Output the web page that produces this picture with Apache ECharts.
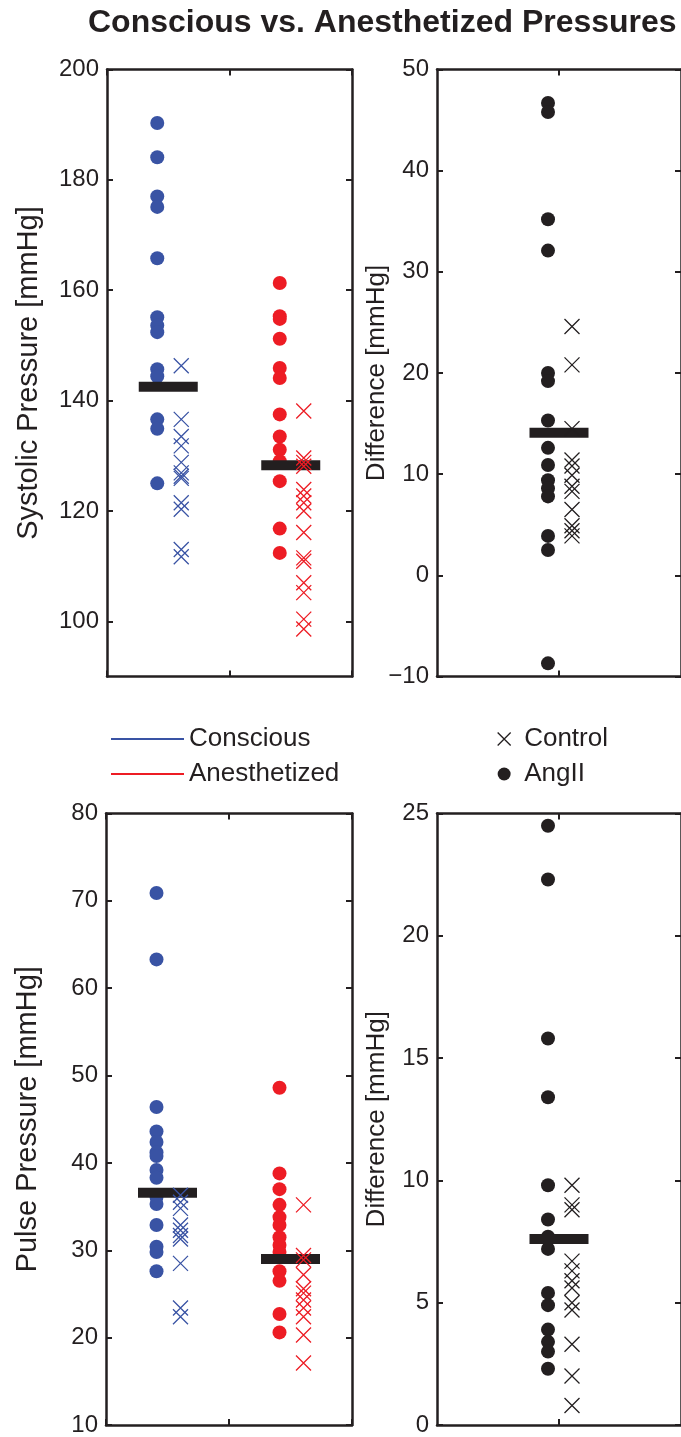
<!DOCTYPE html>
<html><head><meta charset="utf-8">
<script src="https://cdn.jsdelivr.net/npm/echarts@6/dist/echarts.min.js"></script>
<style>html,body{margin:0;padding:0;background:#fff}#c{width:681px;height:1437px}</style>
</head><body><div id="c"></div>
<script>
// ---------- data ----------
const groups = ['Conscious', 'Anesthetized'];
const diffGroup = ['Difference'];

const systolicTicks = [100, 120, 140, 160, 180, 200];
const systolicDiffTicks = [-10, 0, 10, 20, 30, 40, 50];
const pulseTicks = [10, 20, 30, 40, 50, 60, 70, 80];
const pulseDiffTicks = [0, 5, 10, 15, 20, 25];

const systolicConsciousAngII = [190.3, 184.1, 177.0, 175.1, 165.8, 155.1, 153.6, 152.4, 145.7, 144.4, 136.6, 134.9, 125.0];
const systolicConsciousControl = [146.3, 136.6, 133.5, 131.8, 128.8, 126.9, 126.3, 125.9, 121.5, 120.3, 113.0, 111.7];
const systolicAnesthAngII = [161.3, 155.3, 154.8, 151.2, 145.9, 144.1, 137.5, 133.5, 131.1, 129.0, 125.4, 116.8, 112.4];
const systolicAnesthControl = [138.1, 129.6, 128.8, 128.1, 123.9, 122.7, 121.5, 120.0, 116.1, 111.5, 110.9, 107.0, 105.2, 100.4, 98.6];
const systolicMeans = [142.5, 128.3];

const systolicDiffAngII = [46.7, 45.8, 35.2, 32.1, 20.0, 19.2, 15.3, 12.6, 10.9, 9.4, 8.6, 7.8, 3.9, 2.5, -8.7];
const systolicDiffControl = [24.6, 20.8, 14.5, 11.4, 10.8, 9.9, 8.8, 8.3, 6.5, 4.9, 4.4, 3.9];
const systolicDiffMean = [14.1];

const pulseConsciousAngII = [70.9, 63.3, 46.4, 43.6, 42.4, 41.2, 40.8, 39.2, 38.3, 36.1, 35.3, 32.9, 30.4, 29.8, 27.6];
const pulseConsciousControl = [36.3, 35.5, 34.8, 32.9, 32.3, 31.7, 31.3, 28.5, 23.4, 22.4];
const pulseAnesthAngII = [48.6, 38.8, 37.0, 35.2, 33.8, 32.9, 31.5, 30.6, 29.8, 27.6, 26.5, 22.7, 20.6];
const pulseAnesthControl = [35.2, 29.4, 28.9, 27.2, 25.6, 25.1, 24.3, 23.4, 22.4, 20.3, 17.1];
const pulseMeans = [36.6, 29.0];

const pulseDiffAngII = [24.5, 22.3, 15.8, 13.4, 9.8, 8.4, 7.7, 7.2, 5.4, 4.9, 3.9, 3.4, 3.0, 2.3];
const pulseDiffControl = [9.8, 9.0, 8.8, 6.7, 6.3, 5.9, 5.6, 5.0, 4.7, 3.3, 2.0, 0.8];
const pulseDiffMean = [7.6];

// ---------- style ----------
const FONT = "'Liberation Sans', Arial, Helvetica, sans-serif";
const INK = '#231f20', BLUE = '#3953a4', RED = '#ed1c24';
const XSYM = 'path://M0,0L10,10M10,0L0,10';
const DOT = 14, CROSS = 15, DOT_OFF = -11, CROSS_OFF = 13;

const grids = [
  {left: 107, top: 69.5, width: 245, height: 607},
  {left: 437, top: 69.5, width: 245, height: 607},
  {left: 106, top: 813.5, width: 246, height: 613.5},
  {left: 437, top: 813.5, width: 245, height: 613.5}
];

const panels = [
  {cats: groups, min: 90, max: 200, ticks: systolicTicks, name: 'Systolic Pressure [mmHg]', nameSize: 29, nameGap: 64, align: false},
  {cats: diffGroup, min: -10, max: 50, ticks: systolicDiffTicks, name: 'Difference [mmHg]', nameSize: 26, nameGap: 47, align: true},
  {cats: groups, min: 10, max: 80, ticks: pulseTicks, name: 'Pulse Pressure [mmHg]', nameSize: 29, nameGap: 64, align: false},
  {cats: diffGroup, min: 0, max: 25, ticks: pulseDiffTicks, name: 'Difference [mmHg]', nameSize: 26, nameGap: 47, align: true}
];

const lineStyle = {color: INK, width: 2.5};
const tickStyle = {show: true, inside: true, length: 6, lineStyle: {color: INK, width: 2}};

const xAxis = [], yAxis = [];
panels.forEach((p, i) => {
  ['bottom', 'top'].forEach(pos => {
    xAxis.push({
      type: 'category', gridIndex: i, position: pos, data: p.cats,
      boundaryGap: true,
      axisLine: {show: true, onZero: false, lineStyle},
      axisTick: Object.assign({}, tickStyle, {alignWithLabel: p.align, interval: 0}),
      axisLabel: {show: false}, splitLine: {show: false}
    });
  });
  ['left', 'right'].forEach(pos => {
    yAxis.push({
      type: 'value', gridIndex: i, position: pos, min: p.min, max: p.max,
      name: pos === 'left' ? p.name : '', nameLocation: 'middle', nameRotate: 90, nameGap: p.nameGap,
      nameMoveOverlap: false,
      nameTextStyle: {fontSize: p.nameSize, fontFamily: FONT, color: INK},
      axisLine: {show: true, onZero: false, lineStyle},
      axisTick: Object.assign({}, tickStyle, {customValues: p.ticks}),
      axisLabel: {
        show: pos === 'left', customValues: p.ticks, margin: 8,
        fontSize: 24, fontFamily: FONT, color: INK,
        formatter: v => String(v).replace('-', '\u2212')
      },
      splitLine: {show: false}
    });
  });
});

const series = [];
function dots(name, arr, cat, color, panel) {
  series.push({type: 'scatter', name, xAxisIndex: panel * 2, yAxisIndex: panel * 2,
    data: arr.map(v => [cat, v]), symbol: 'circle', symbolSize: DOT, symbolOffset: [DOT_OFF, 0],
    itemStyle: {color, opacity: 1}, z: 2, silent: true});
}
function crosses(name, arr, cat, color, panel) {
  series.push({type: 'scatter', name, xAxisIndex: panel * 2, yAxisIndex: panel * 2,
    data: arr.map(v => [cat, v]), symbol: XSYM, symbolSize: CROSS, symbolOffset: [CROSS_OFF, 0],
    itemStyle: {color: 'rgba(0,0,0,0)', borderColor: color, borderWidth: 1.3, opacity: 1}, z: 4, silent: true});
}
function means(arr, panel) {
  series.push({type: 'scatter', name: 'Mean', xAxisIndex: panel * 2, yAxisIndex: panel * 2,
    data: arr.map((v, i) => [i, v]), symbol: 'rect', symbolSize: [59, 10],
    itemStyle: {color: INK, opacity: 1}, z: 3, silent: true});
}

dots('Conscious', systolicConsciousAngII, 0, BLUE, 0);
dots('Anesthetized', systolicAnesthAngII, 1, RED, 0);
means(systolicMeans, 0);
crosses('Conscious Control', systolicConsciousControl, 0, BLUE, 0);
crosses('Anesthetized Control', systolicAnesthControl, 1, RED, 0);

dots('AngII', systolicDiffAngII, 0, INK, 1);
means(systolicDiffMean, 1);
crosses('Control', systolicDiffControl, 0, INK, 1);

dots('Conscious', pulseConsciousAngII, 0, BLUE, 2);
dots('Anesthetized', pulseAnesthAngII, 1, RED, 2);
means(pulseMeans, 2);
crosses('Conscious Control', pulseConsciousControl, 0, BLUE, 2);
crosses('Anesthetized Control', pulseAnesthControl, 1, RED, 2);

dots('AngII', pulseDiffAngII, 0, INK, 3);
means(pulseDiffMean, 3);
crosses('Control', pulseDiffControl, 0, INK, 3);

const legendText = {fontSize: 26, fontFamily: FONT, color: INK, lineHeight: 30};

const option = {
  animation: false,
  backgroundColor: '#fff',
  title: {
    text: 'Conscious vs. Anesthetized Pressures', left: 88, top: 7, padding: 0,
    textStyle: {fontSize: 32, fontWeight: 'bold', fontFamily: FONT, color: INK}
  },
  grid: grids.map(g => Object.assign({containLabel: false}, g)),
  xAxis, yAxis, series,
  legend: [
    {left: 111, top: 724, padding: 0, orient: 'vertical', itemWidth: 73, itemHeight: 2, itemGap: 5, icon: 'rect',
      selectedMode: false, textStyle: legendText, data: ['Conscious', 'Anesthetized']},
    {left: 497, top: 724, padding: 0, orient: 'vertical', itemWidth: 30, itemHeight: 13, itemGap: 5,
      selectedMode: false, textStyle: legendText,
      data: [
        {name: 'Control', icon: XSYM, itemStyle: {color: 'rgba(0,0,0,0)', borderColor: INK, borderWidth: 1.3}},
        {name: 'AngII', icon: 'circle'}
      ]}
  ]
};

const chart = echarts.init(document.getElementById('c'), null, {renderer: 'canvas'});
chart.setOption(option);
</script>
</body></html>
